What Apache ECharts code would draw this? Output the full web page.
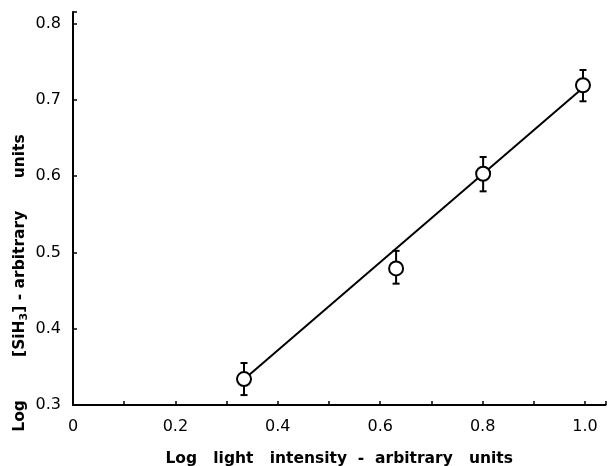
<!DOCTYPE html>
<html>
<head>
<meta charset="utf-8">
<script src="https://cdn.jsdelivr.net/npm/echarts@6/dist/echarts.min.js"></script>
<style>html,body{margin:0;padding:0;background:#fff;}#c{width:609px;height:466px;}</style>
</head>
<body>
<div id="c"></div>
<script>
// Data
var logIntensity = [0.334, 0.631, 0.801, 0.996];
var logSiH3 = [0.334, 0.479, 0.603, 0.719];
var errLow = [0.313, 0.459, 0.580, 0.698];
var errHigh = [0.355, 0.502, 0.625, 0.739];
var fitX = [0.345, 0.990];
var fitY = [0.340, 0.712];
var xTickLabels = ['0', '0.2', '0.4', '0.6', '0.8', '1.0'];
var yTickLabels = ['0.3', '0.4', '0.5', '0.6', '0.7', '0.8'];

var FONT = 'DejaVu Sans';
var chart = echarts.init(document.getElementById('c'), null, {renderer: 'canvas'});

function fmtX(v) {
  var k = Math.round(v * 10);
  if (Math.abs(v * 10 - k) > 1e-6 || k % 2 !== 0) return '';
  return xTickLabels[k / 2] || '';
}
function fmtY(v) {
  var k = Math.round(v * 10);
  if (Math.abs(v * 10 - k) > 1e-6) return '';
  return yTickLabels[k - 3] || '';
}

var pts = logIntensity.map(function (x, i) { return [x, logSiH3[i]]; });
var errs = logIntensity.map(function (x, i) { return [x, errLow[i], errHigh[i]]; });
var fit = fitX.map(function (x, i) { return [x, fitY[i]]; });

chart.setOption({
  animation: false,
  backgroundColor: '#fff',
  grid: {left: 73, right: 3.5, top: 12, bottom: 61, containLabel: false, outerBoundsMode: 'none'},
  xAxis: {
    type: 'value', min: 0, max: 1.04, interval: 0.1,
    splitLine: {show: false},
    axisLine: {onZero: false, lineStyle: {color: '#000', width: 2}},
    axisTick: {inside: true, length: 4, lineStyle: {color: '#000', width: 1.5}},
    axisLabel: {formatter: fmtX, color: '#000', fontFamily: FONT, fontSize: 16, margin: 14},
    name: 'Log   light   intensity  -  arbitrary   units',
    nameLocation: 'middle', nameGap: 46,
    nameTextStyle: {color: '#000', fontFamily: FONT, fontSize: 15.5, fontWeight: 'bold'}
  },
  yAxis: {
    type: 'value', min: 0.3, max: 0.815, interval: 0.1,
    splitLine: {show: false},
    axisLine: {onZero: false, lineStyle: {color: '#000', width: 2}},
    axisTick: {inside: true, length: 4, lineStyle: {color: '#000', width: 1.5}},
    axisLabel: {formatter: fmtY, color: '#000', fontFamily: FONT, fontSize: 16, margin: 12}
  },
  graphic: [{
    type: 'text',
    x: 20, y: 283,
    rotation: Math.PI / 2,
    style: {
      text: '{n|Log        [SiH}{s|3}{n|] - arbitrary      units}',
      align: 'center', verticalAlign: 'middle',
      rich: {
        n: {fontFamily: FONT, fontSize: 15.5, fontWeight: 'bold', fill: '#000'},
        s: {fontFamily: FONT, fontSize: 11, fontWeight: 'bold', fill: '#000', padding: [9, 0, 0, 0]}
      }
    }
  }],
  series: [
    {
      type: 'line', data: fit, symbol: 'none', z: 2,
      lineStyle: {color: '#000', width: 2}
    },
    {
      type: 'custom', z: 3,
      data: errs,
      renderItem: function (params, api) {
        var x = api.value(0);
        var lo = api.coord([x, api.value(1)]);
        var hi = api.coord([x, api.value(2)]);
        var cw = 3.5;
        return {
          type: 'group',
          children: [
            {type: 'line', shape: {x1: lo[0], y1: lo[1], x2: hi[0], y2: hi[1]}, style: {stroke: '#000', lineWidth: 2}},
            {type: 'line', shape: {x1: lo[0] - cw, y1: lo[1], x2: lo[0] + cw, y2: lo[1]}, style: {stroke: '#000', lineWidth: 2}},
            {type: 'line', shape: {x1: hi[0] - cw, y1: hi[1], x2: hi[0] + cw, y2: hi[1]}, style: {stroke: '#000', lineWidth: 2}}
          ]
        };
      }
    },
    {
      type: 'scatter', data: pts, symbol: 'circle', symbolSize: 14, z: 4,
      itemStyle: {color: '#fff', borderColor: '#000', borderWidth: 2, opacity: 1}
    }
  ]
});
</script>
</body>
</html>
